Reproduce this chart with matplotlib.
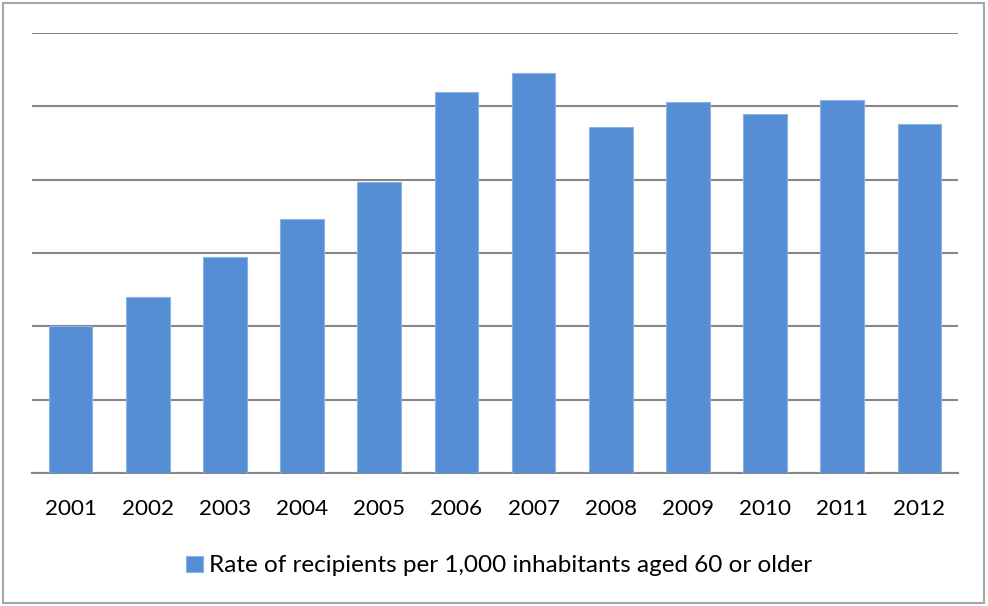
import matplotlib
matplotlib.use("Agg")
import matplotlib.pyplot as plt
from matplotlib.patches import Rectangle

years = ["2001", "2002", "2003", "2004", "2005", "2006",
         "2007", "2008", "2009", "2010", "2011", "2012"]
rates = [20.0, 24.0, 29.5, 34.7, 39.7, 52.0, 54.6, 47.2, 50.6, 49.0, 50.9, 47.6]
series_name = "Rate of recipients per 1,000 inhabitants aged 60 or older"
y_ticks = [0, 10, 20, 30, 40, 50, 60]

plt.rcParams['font.family'] = ['Lato', 'DejaVu Sans']

fig = plt.figure(figsize=(9.88, 6.06), dpi=100)
fig.patches.append(Rectangle((0.003, 0.005), 0.993, 0.99, transform=fig.transFigure,
                             fill=False, edgecolor="#a6a6a6", linewidth=1.5))
ax = fig.add_axes([32/988, (606-473)/606, (958-32)/988, (473-33)/606])

x = list(range(len(years)))
ax.bar(x, rates, width=0.566, color="#558ed5", edgecolor="#8db3e2", linewidth=0.8,
       zorder=3, label=series_name)
ax.set_xlim(-0.5, len(years) - 0.5)
ax.set_ylim(0, 60)
ax.set_yticks(y_ticks)
ax.yaxis.grid(True, color="#868686", linewidth=1.5, zorder=0)
ax.tick_params(axis="y", left=False, labelleft=False)
ax.tick_params(axis="x", bottom=False, labelsize=16.2, pad=15.5, colors="black")
ax.set_xticks(x)
ax.set_xticklabels(years)
for s in ["top", "right", "left"]:
    ax.spines[s].set_visible(False)
ax.spines["bottom"].set_color("#868686")
ax.spines["bottom"].set_linewidth(1.5)

leg = fig.legend(loc="center", bbox_to_anchor=(499/988, (606-566)/606), frameon=False,
                 fontsize=17.5, handlelength=0.68, handleheight=0.68, handletextpad=0.25)

fig.savefig("out.png", dpi=100)
